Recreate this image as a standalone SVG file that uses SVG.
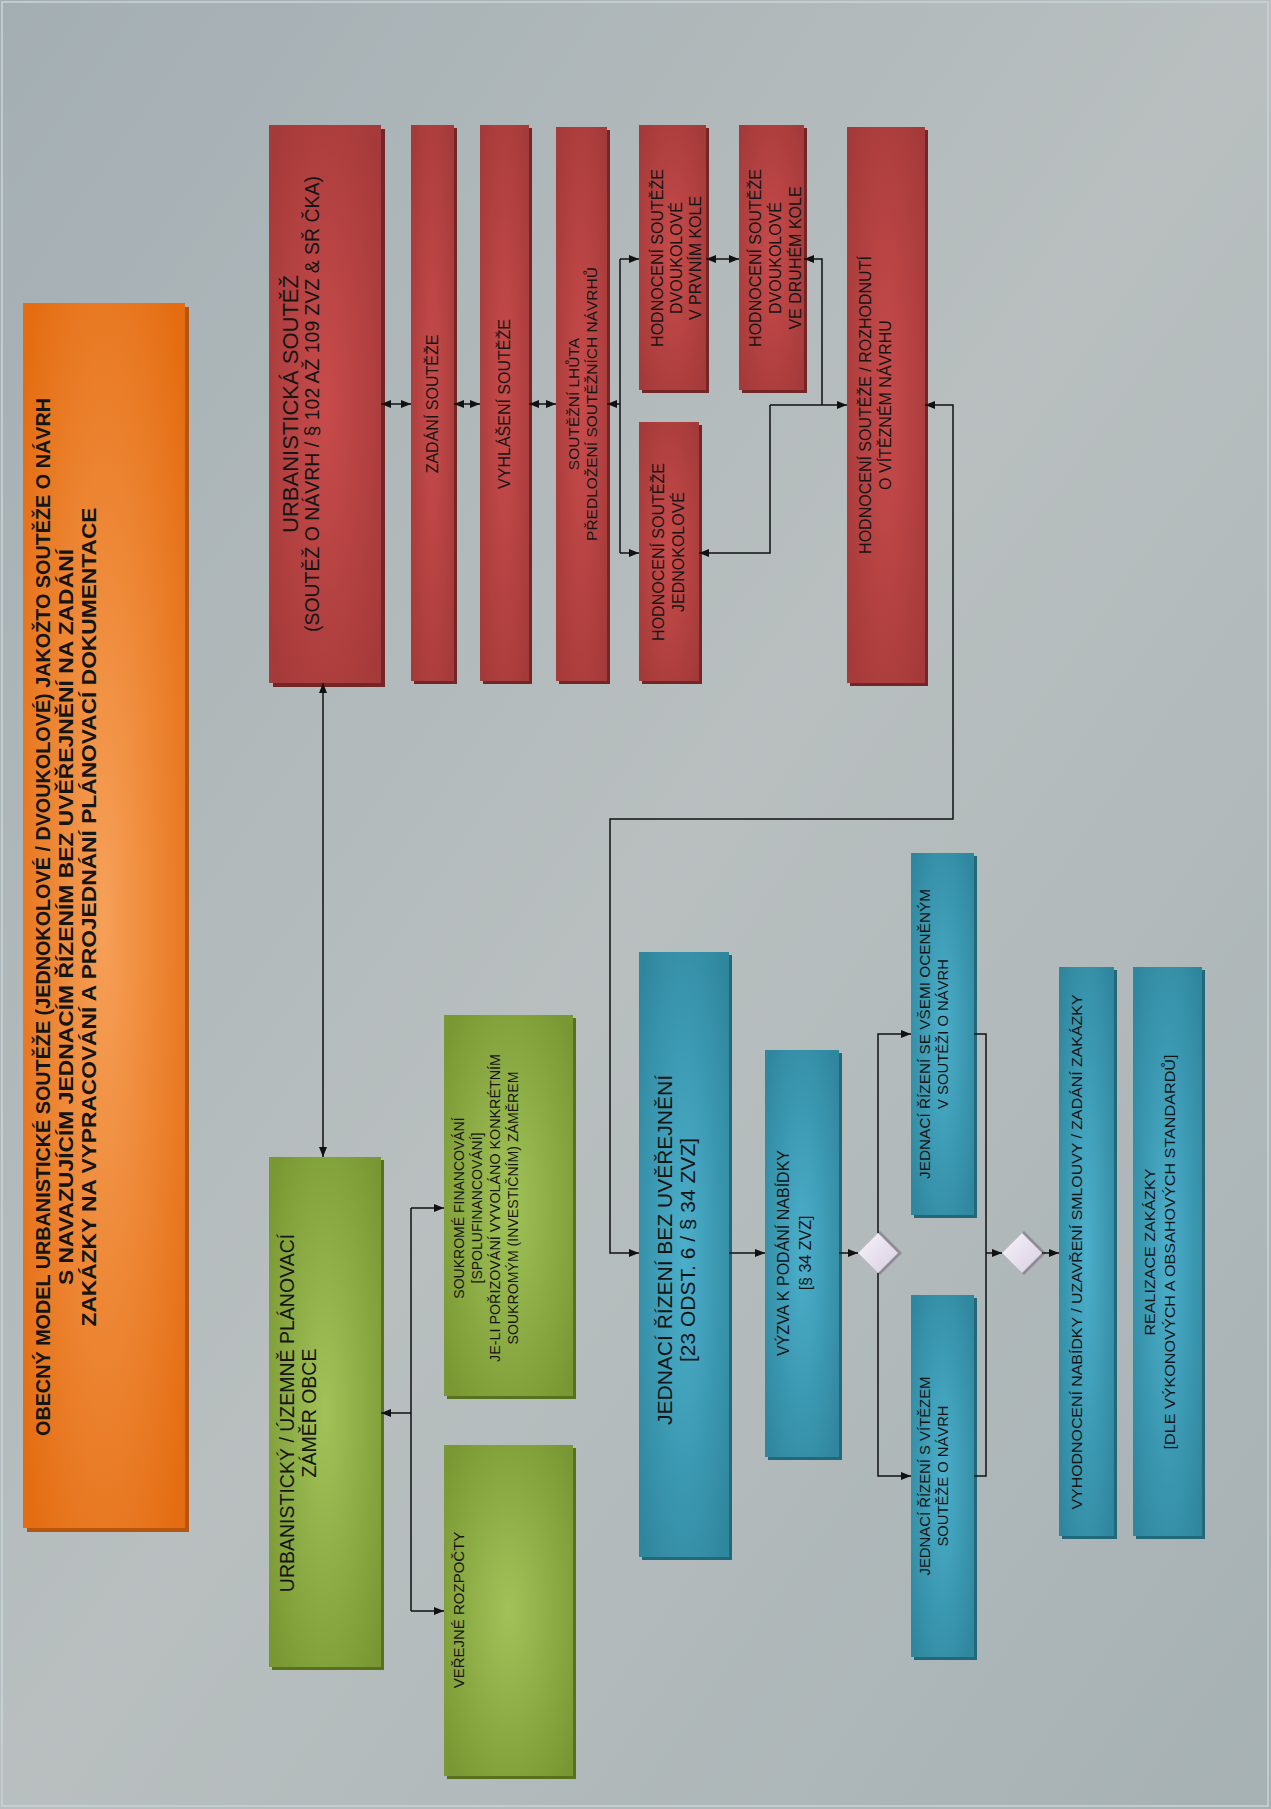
<svg xmlns="http://www.w3.org/2000/svg" width="1271" height="1809" viewBox="0 0 1271 1809">
<defs>
<linearGradient id="gBg" x1="0" y1="0" x2="1" y2="1">
<stop offset="0" stop-color="#a3aeb3"/><stop offset="0.5" stop-color="#b9bfbf"/><stop offset="1" stop-color="#a6b1b4"/>
</linearGradient>
<radialGradient id="gRed" cx="0.5" cy="0.5" r="0.65">
<stop offset="0" stop-color="#c84b4b"/><stop offset="1" stop-color="#a53a3a"/>
</radialGradient>
<radialGradient id="gGreen" cx="0.5" cy="0.5" r="0.65">
<stop offset="0" stop-color="#a2c259"/><stop offset="1" stop-color="#799833"/>
</radialGradient>
<radialGradient id="gBlue" cx="0.5" cy="0.5" r="0.65">
<stop offset="0" stop-color="#4cafcb"/><stop offset="1" stop-color="#2f879e"/>
</radialGradient>
<radialGradient id="gOrange" cx="0.5" cy="0.5" r="0.65">
<stop offset="0" stop-color="#f6a058"/><stop offset="1" stop-color="#e46d12"/>
</radialGradient>
<linearGradient id="gDia" x1="0" y1="0" x2="1" y2="1">
<stop offset="0" stop-color="#f7f4f9"/><stop offset="1" stop-color="#d8cde2"/>
</linearGradient>
<marker id="a" viewBox="0 0 10 8" refX="10" refY="4" markerWidth="10" markerHeight="8" markerUnits="userSpaceOnUse" orient="auto-start-reverse">
<path d="M0,0 L10,4 L0,8 z" fill="#111"/>
</marker>
<style>
.red{fill:url(#gRed)} .redS{fill:#742626}
.green{fill:url(#gGreen)} .greenS{fill:#58711f}
.blue{fill:url(#gBlue)} .blueS{fill:#22687b}
.orange{fill:url(#gOrange)} .orangeS{fill:#b55510}
.dia{fill:url(#gDia)} .diaS{fill:#8e8c96}
.t{font-family:"Liberation Sans",Arial,sans-serif;fill:#151515;text-anchor:middle;dominant-baseline:central}
.n{font-family:"Liberation Sans Narrow","Liberation Sans",Arial,sans-serif}
.b{font-weight:bold}
.c{fill:none;stroke:#111;stroke-width:1.5}
</style>
</defs>
<rect x="0" y="0" width="1271" height="1809" fill="url(#gBg)"/>
<rect x="2" y="2" width="1266" height="1804" fill="none" stroke="#c9d5d9" stroke-width="1.5"/>

<g id="title">
<rect class="orangeS" x="27" y="307" width="162" height="1225"/>
<rect class="orange" x="23" y="303" width="162" height="1225"/>
<text class="t n b" font-size="20" textLength="1038" lengthAdjust="spacingAndGlyphs" transform="translate(43,917) rotate(-90)">OBECNÝ MODEL URBANISTICKÉ SOUTĚŽE (JEDNOKOLOVÉ / DVOUKOLOVÉ) JAKOŽTO SOUTĚŽE O NÁVRH</text>
<text class="t n b" font-size="20" textLength="736" lengthAdjust="spacingAndGlyphs" transform="translate(66,917) rotate(-90)">S NAVAZUJÍCÍM JEDNACÍM ŘÍZENÍM BEZ UVĚŘEJNĚNÍ NA ZADÁNÍ</text>
<text class="t n b" font-size="20" textLength="819" lengthAdjust="spacingAndGlyphs" transform="translate(89,917) rotate(-90)">ZAKÁZKY NA VYPRACOVÁNÍ A PROJEDNÁNÍ PLÁNOVACÍ DOKUMENTACE</text>
</g>

<g id="soutez">
<rect class="redS" x="273" y="129" width="112" height="558"/>
<rect class="red" x="269" y="125" width="112" height="558"/>
<text class="t" font-size="22" transform="translate(290,404) rotate(-90)">URBANISTICKÁ SOUTĚŽ</text>
<text class="t" font-size="19.5" textLength="456" lengthAdjust="spacingAndGlyphs" transform="translate(312,404) rotate(-90)">(SOUTĚŽ O NÁVRH / § 102 AŽ 109 ZVZ &amp; SŘ ČKA)</text>
</g>
<g id="zadani">
<rect class="redS" x="414" y="128" width="43" height="556"/>
<rect class="red" x="411" y="125" width="43" height="556"/>
<text class="t" font-size="16" transform="translate(432,404) rotate(-90)">ZADÁNÍ SOUTĚŽE</text>
</g>
<g id="vyhlaseni">
<rect class="redS" x="483" y="128" width="49" height="556"/>
<rect class="red" x="480" y="125" width="49" height="556"/>
<text class="t" font-size="16" transform="translate(504,404) rotate(-90)">VYHLÁŠENÍ SOUTĚŽE</text>
</g>
<g id="lhuta">
<rect class="redS" x="559" y="130" width="51" height="554"/>
<rect class="red" x="556" y="127" width="51" height="554"/>
<text class="t" font-size="15.5" transform="translate(573,404) rotate(-90)">SOUTĚŽNÍ LHŮTA</text>
<text class="t" font-size="15.5" transform="translate(591,404) rotate(-90)">PŘEDLOŽENÍ SOUTĚŽNÍCH NÁVRHŮ</text>
</g>
<g id="dvou1">
<rect class="redS" x="642" y="128" width="67" height="265"/>
<rect class="red" x="639" y="125" width="67" height="265"/>
<text class="t" font-size="16" transform="translate(657,258) rotate(-90)">HODNOCENÍ SOUTĚŽE</text>
<text class="t" font-size="16" transform="translate(676,258) rotate(-90)">DVOUKOLOVÉ</text>
<text class="t" font-size="16" transform="translate(695,258) rotate(-90)">V PRVNÍM KOLE</text>
</g>
<g id="jedno">
<rect class="redS" x="642" y="425" width="60" height="259"/>
<rect class="red" x="639" y="422" width="60" height="259"/>
<text class="t" font-size="16" transform="translate(658,552) rotate(-90)">HODNOCENÍ SOUTĚŽE</text>
<text class="t" font-size="16" transform="translate(678,552) rotate(-90)">JEDNOKOLOVÉ</text>
</g>
<g id="dvou2">
<rect class="redS" x="742" y="128" width="65" height="265"/>
<rect class="red" x="739" y="125" width="65" height="265"/>
<text class="t" font-size="16" transform="translate(755,258) rotate(-90)">HODNOCENÍ SOUTĚŽE</text>
<text class="t" font-size="16" transform="translate(775,258) rotate(-90)">DVOUKOLOVÉ</text>
<text class="t" font-size="16" transform="translate(795,258) rotate(-90)">VE DRUHÉM KOLE</text>
</g>
<g id="rozhodnuti">
<rect class="redS" x="850" y="130" width="78" height="556"/>
<rect class="red" x="847" y="127" width="78" height="556"/>
<text class="t" font-size="16" transform="translate(865,405) rotate(-90)">HODNOCENÍ SOUTĚŽE / ROZHODNUTÍ</text>
<text class="t" font-size="16" transform="translate(885,405) rotate(-90)">O VÍTĚZNÉM NÁVRHU</text>
</g>

<g id="zamer">
<rect class="greenS" x="272" y="1160" width="112" height="510"/>
<rect class="green" x="269" y="1157" width="112" height="510"/>
<text class="t" font-size="19.5" transform="translate(287,1413) rotate(-90)">URBANISTICKÝ / ÚZEMNĚ PLÁNOVACÍ</text>
<text class="t" font-size="19.5" transform="translate(309,1413) rotate(-90)">ZÁMĚR OBCE</text>
</g>
<g id="soukrome">
<rect class="greenS" x="447" y="1018" width="129" height="381"/>
<rect class="green" x="444" y="1015" width="129" height="381"/>
<text class="t" font-size="14" transform="translate(459,1208) rotate(-90)">SOUKROMÉ FINANCOVÁNÍ</text>
<text class="t" font-size="14" transform="translate(477,1208) rotate(-90)">[SPOLUFINANCOVÁNÍ]</text>
<text class="t" font-size="14" textLength="308" lengthAdjust="spacingAndGlyphs" transform="translate(495,1208) rotate(-90)">JE-LI POŘIZOVÁNÍ VYVOLÁNO KONKRÉTNÍM</text>
<text class="t" font-size="14" textLength="273" lengthAdjust="spacingAndGlyphs" transform="translate(513,1208) rotate(-90)">SOUKROMÝM (INVESTIČNÍM) ZÁMĚREM</text>
</g>
<g id="verejne">
<rect class="greenS" x="447" y="1448" width="129" height="331"/>
<rect class="green" x="444" y="1445" width="129" height="331"/>
<text class="t" font-size="15" transform="translate(458,1610) rotate(-90)">VEŘEJNÉ ROZPOČTY</text>
</g>

<g id="jrbu">
<rect class="blueS" x="642" y="955" width="90" height="605"/>
<rect class="blue" x="639" y="952" width="90" height="605"/>
<text class="t" font-size="21" transform="translate(664,1250) rotate(-90)">JEDNACÍ ŘÍZENÍ BEZ UVĚŘEJNĚNÍ</text>
<text class="t" font-size="21" transform="translate(687,1250) rotate(-90)">[23 ODST. 6 / § 34 ZVZ]</text>
</g>
<g id="vyzva">
<rect class="blueS" x="768" y="1053" width="74" height="407"/>
<rect class="blue" x="765" y="1050" width="74" height="407"/>
<text class="t" font-size="16" transform="translate(783,1253) rotate(-90)">VÝZVA K PODÁNÍ NABÍDKY</text>
<text class="t" font-size="16" transform="translate(805,1253) rotate(-90)">[§ 34 ZVZ]</text>
</g>
<g id="dia1">
<polygon class="diaS" points="880,1231 902,1253 880,1275 858,1253"/>
<polygon class="dia" points="878,1233 898,1253 878,1273 858,1253"/>
</g>
<g id="vsemi">
<rect class="blueS" x="914" y="856" width="63" height="362"/>
<rect class="blue" x="911" y="853" width="63" height="362"/>
<text class="t n" font-size="14.5" textLength="290" lengthAdjust="spacingAndGlyphs" transform="translate(925,1034) rotate(-90)">JEDNACÍ ŘÍZENÍ SE VŠEMI OCENĚNÝM</text>
<text class="t n" font-size="14.5" textLength="150" lengthAdjust="spacingAndGlyphs" transform="translate(943,1034) rotate(-90)">V SOUTĚŽI O NÁVRH</text>
</g>
<g id="vitez">
<rect class="blueS" x="914" y="1298" width="63" height="362"/>
<rect class="blue" x="911" y="1295" width="63" height="362"/>
<text class="t n" font-size="14.5" textLength="199" lengthAdjust="spacingAndGlyphs" transform="translate(925,1476) rotate(-90)">JEDNACÍ ŘÍZENÍ S VÍTĚZEM</text>
<text class="t n" font-size="14.5" textLength="141" lengthAdjust="spacingAndGlyphs" transform="translate(943,1476) rotate(-90)">SOUTĚŽE O NÁVRH</text>
</g>
<g id="dia2">
<polygon class="diaS" points="1024,1231 1046,1253 1024,1275 1002,1253"/>
<polygon class="dia" points="1022,1233 1042,1253 1022,1273 1002,1253"/>
</g>
<g id="vyhodnoceni">
<rect class="blueS" x="1062" y="970" width="55" height="569"/>
<rect class="blue" x="1059" y="967" width="55" height="569"/>
<text class="t n" font-size="15" textLength="515" lengthAdjust="spacingAndGlyphs" transform="translate(1076,1252) rotate(-90)">VYHODNOCENÍ NABÍDKY / UZAVŘENÍ SMLOUVY / ZADÁNÍ ZAKÁZKY</text>
</g>
<g id="realizace">
<rect class="blueS" x="1136" y="970" width="69" height="569"/>
<rect class="blue" x="1133" y="967" width="69" height="569"/>
<text class="t n" font-size="15" textLength="167" lengthAdjust="spacingAndGlyphs" transform="translate(1149,1252) rotate(-90)">REALIZACE ZAKÁZKY</text>
<text class="t n" font-size="15" textLength="395" lengthAdjust="spacingAndGlyphs" transform="translate(1169,1252) rotate(-90)">[DLE VÝKONOVÝCH A OBSAHOVÝCH STANDARDŮ]</text>
</g>

<g id="connectors">
<line class="c" x1="381" y1="404" x2="411" y2="404" marker-start="url(#a)" marker-end="url(#a)"/>
<line class="c" x1="454" y1="404" x2="480" y2="404" marker-start="url(#a)" marker-end="url(#a)"/>
<line class="c" x1="529" y1="404" x2="556" y2="404" marker-start="url(#a)" marker-end="url(#a)"/>
<line class="c" x1="620" y1="404" x2="607" y2="404" marker-end="url(#a)"/>
<path class="c" d="M620,259 V553"/>
<line class="c" x1="620" y1="259" x2="639" y2="259" marker-end="url(#a)"/>
<line class="c" x1="620" y1="553" x2="639" y2="553" marker-end="url(#a)"/>
<line class="c" x1="706" y1="259" x2="739" y2="259" marker-start="url(#a)" marker-end="url(#a)"/>
<path class="c" d="M822,405 V259 H804" marker-end="url(#a)"/>
<path class="c" d="M770,405 H847" marker-end="url(#a)"/>
<path class="c" d="M770,405 V553 H699" marker-end="url(#a)"/>
<path class="c" d="M925,405 H953 V819 H610 V1253 H639" marker-start="url(#a)" marker-end="url(#a)"/>
<line class="c" x1="323" y1="683" x2="323" y2="1157" marker-start="url(#a)" marker-end="url(#a)"/>
<line class="c" x1="411" y1="1413" x2="381" y2="1413" marker-end="url(#a)"/>
<path class="c" d="M411,1208 V1611"/>
<line class="c" x1="411" y1="1208" x2="444" y2="1208" marker-end="url(#a)"/>
<line class="c" x1="411" y1="1611" x2="444" y2="1611" marker-end="url(#a)"/>
<line class="c" x1="729" y1="1253" x2="765" y2="1253" marker-end="url(#a)"/>
<line class="c" x1="839" y1="1253" x2="858" y2="1253" marker-end="url(#a)"/>
<path class="c" d="M878,1233 V1034 H911" marker-end="url(#a)"/>
<path class="c" d="M878,1273 V1476 H911" marker-end="url(#a)"/>
<path class="c" d="M974,1034 H986 V1476 H974"/>
<line class="c" x1="986" y1="1253" x2="1002" y2="1253" marker-end="url(#a)"/>
<line class="c" x1="1042" y1="1253" x2="1059" y2="1253" marker-end="url(#a)"/>
</g>
</svg>
